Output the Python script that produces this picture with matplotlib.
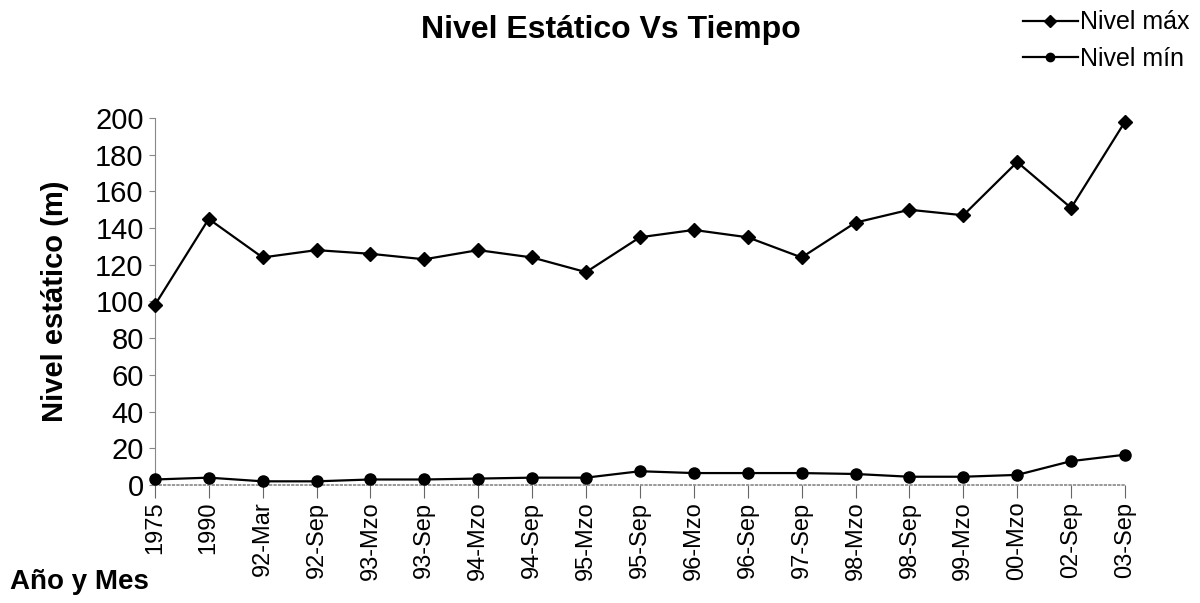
import numpy as np
import matplotlib.pyplot as plt

plt.rcParams['font.family'] = ['Liberation Sans', 'DejaVu Sans']

# Fechas de medicion (eje x)
fechas = ['1975', '1990', '92-Mar', '92-Sep', '93-Mzo', '93-Sep', '94-Mzo',
          '94-Sep', '95-Mzo', '95-Sep', '96-Mzo', '96-Sep', '97-Sep', '98-Mzo',
          '98-Sep', '99-Mzo', '00-Mzo', '02-Sep', '03-Sep']

# Nivel estatico en metros
nivel_max = [98, 145, 124, 128, 126, 123, 128, 124, 116, 135, 139, 135,
             124, 143, 150, 147, 176, 151, 198]
nivel_min = [3, 4, 2, 2, 3, 3, 3.5, 4, 4, 7.5, 6.5, 6.5,
             6.5, 6, 4.5, 4.5, 5.5, 13, 16.5]

x = np.arange(len(fechas))

fig = plt.figure(figsize=(12, 6.03), dpi=100)
ax = fig.add_axes([0.129, 0.1957, 0.8085, 0.6086])

ax.plot(x, nivel_max, color='black', lw=1.6, marker='D', markersize=7.5,
        label='Nivel máx', clip_on=False, zorder=3)
ax.plot(x, nivel_min, color='black', lw=1.6, marker='o', markersize=8,
        label='Nivel mín', clip_on=False, zorder=3)

ax.set_xlim(0, len(fechas) - 1)
ax.set_ylim(0, 200)
ax.set_yticks(np.arange(0, 201, 20))
ax.set_xticks(x)
ax.set_xticklabels(fechas, rotation=90, fontsize=17)
ax.tick_params(axis='y', labelsize=21, length=4, color='#888888', pad=4)
ax.tick_params(axis='x', length=9, color='#666666', pad=3)

ax.spines['right'].set_visible(False)
ax.spines['top'].set_visible(False)
ax.spines['left'].set_color('#888888')
ax.spines['left'].set_linewidth(0.8)
ax.spines['bottom'].set_color('#888888')
ax.spines['bottom'].set_linestyle(':')
ax.spines['bottom'].set_linewidth(1.2)

ax.set_ylabel('Nivel estático (m)', fontsize=21, fontweight='bold')
ax.yaxis.set_label_coords(-0.088, 0.5)

fig.text(0.509, 0.950, 'Nivel Estático Vs Tiempo', fontsize=23,
         fontweight='bold', ha='center', va='center')
fig.text(0.008, 0.035, 'Año y Mes', fontsize=20, fontweight='bold',
         ha='left', va='center')

fig.legend(loc='upper right', bbox_to_anchor=(1.010, 1.02), frameon=False,
           fontsize=18, handlelength=2.2, handletextpad=0.1,
           labelspacing=0.5, markerscale=0.75)

plt.savefig('out.png', dpi=100)
